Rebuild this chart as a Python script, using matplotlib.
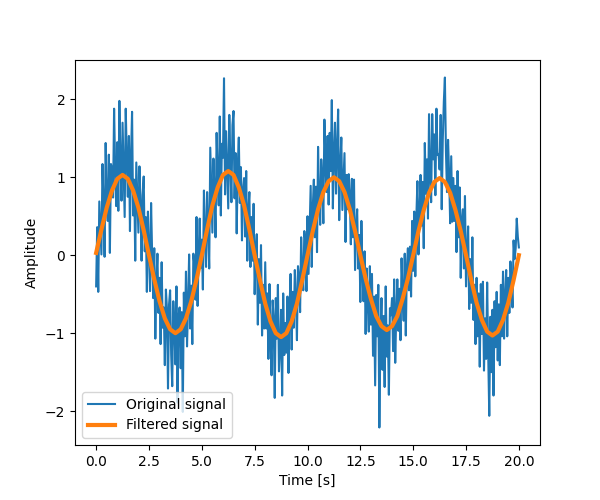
import numpy as np
import matplotlib
matplotlib.use("Agg")
import matplotlib.pyplot as plt

# noisy signal, sampled every 0.05 s from 0 to 20 s
original = [
    -0.40, 0.36, -0.47, 0.69, 0.35, 0.01, 1.17, 0.63, -0.02, 1.44, 0.69, 0.44, 1.29, 0.03, 1.17, 1.11, 0.74, 1.88, 1.11, 0.63,
    1.45, 0.57, 1.98, 1.19, 0.70, 1.70, 1.10, 0.49, 1.88, 1.27, 0.75, 1.53, 0.31, 1.28, 1.84, 0.51, 0.97, -0.07, 1.19, 0.74,
    0.29, 1.14, 0.68, -0.07, 0.77, 1.01, 0.05, 0.49, -0.47, 0.56, 0.10, -0.46, 0.67, 0.01, -0.55, 0.09, -1.07, -0.33, 0.02, -0.74,
    -0.29, -1.14, -0.09, -0.93, -0.67, -1.41, -0.44, -0.68, -1.71, -0.63, -0.45, -1.27, -1.68, -0.59, -0.90, -1.40, -0.40, -1.89, -0.78, -0.67,
    -1.45, -0.73, -2.01, -0.48, -1.04, -0.21, -1.17, -0.63, 0.01, -0.94, -0.39, -1.14, 0.02, -0.13, -0.57, 0.49, -0.65, 0.01, 0.47, -0.16,
    0.20, -0.44, 0.83, 0.29, -0.15, 0.81, 0.37, -0.17, 1.38, 0.84, 0.29, 1.24, 0.79, 0.23, 1.57, 1.01, 0.64, 1.78, 0.51, 1.43,
    1.25, 2.27, 0.78, 1.59, 1.10, 0.60, 1.80, 1.19, 0.68, 1.67, 1.85, 0.73, 1.31, 0.28, 1.14, 1.51, 0.67, 1.13, 0.19, 0.84,
    0.99, 0.24, 1.08, -0.07, 0.57, 0.81, -0.15, 0.49, -0.07, 0.66, -0.50, 0.04, 0.27, -0.89, -0.05, -0.61, 0.13, -1.03, -0.38, -0.94,
    -0.09, -0.94, -0.49, -1.33, -0.37, -1.01, -1.54, -0.58, -0.81, -1.83, -0.55, -1.07, -0.38, -1.49, -1.20, -0.70, -1.80, -0.49, -1.28, -0.87,
    -1.25, -0.53, -1.51, -0.68, -0.24, -1.21, -0.47, -0.93, -0.19, -0.54, -1.09, -0.14, -0.28, -0.73, 0.23, -0.21, -0.45, 0.31, 0.17, -0.46,
    0.50, -0.24, 0.33, 0.89, -0.15, 0.61, 0.97, 0.23, 0.88, 0.04, 1.39, 0.74, 0.39, 1.23, 0.97, 0.41, 1.74, 1.18, 0.81, 1.53,
    0.65, 1.57, 1.08, 1.99, 0.60, 1.30, 1.70, 0.79, 1.38, 1.87, 0.45, 1.13, 1.51, 0.58, 0.94, 1.31, 0.17, 1.03, 0.59, 1.04,
    0.79, 0.14, 0.98, 0.23, 0.97, -0.19, 0.35, 0.59, -0.17, 0.26, -0.60, 0.44, -0.23, -0.59, 0.05, -1.01, -0.17, -0.63, -0.98, -0.14,
    -0.89, -0.24, -1.29, -0.53, -1.67, -0.51, -1.04, -0.38, -2.21, -1.03, -0.55, -1.47, -0.78, -1.69, -0.40, -1.30, -0.90, -1.79, -0.68, -0.77,
    -0.55, -1.23, -0.31, -1.38, -0.74, -0.31, -0.97, -0.43, -1.09, -0.04, -0.49, -0.84, 0.02, -1.03, -0.17, 0.09, -0.45, 0.11, -0.53, 0.44,
    -0.20, 0.56, -0.27, 0.49, 0.95, 0.01, 0.57, 1.03, 0.38, 0.94, 0.09, 1.44, 0.79, 1.23, 0.47, 1.81, 1.04, 0.68, 1.81, 1.23,
    1.55, 0.77, 1.88, 1.29, 1.30, 1.10, 1.80, 0.59, 1.48, 1.97, 2.28, 1.33, 0.81, 1.48, 1.04, 0.41, 1.27, 0.43, 0.99, 0.44,
    0.89, 0.04, 1.08, 0.23, 0.87, -0.29, 0.45, 0.59, -0.17, 0.76, -0.40, 0.04, 0.37, -0.69, -0.05, -0.61, 0.23, -0.83, -0.38, -1.14,
    -0.29, -1.04, -0.49, -1.43, -0.37, -1.01, -0.34, -1.48, -0.81, -1.33, -0.35, -1.27, -2.06, -0.79, -1.50, -0.70, -1.80, -0.59, -1.18, -0.47,
    -1.35, -0.63, -1.41, -0.38, -1.04, -0.21, -1.07, -0.53, -0.19, -1.04, -0.29, -0.74, -0.08, -0.33, -0.67, 0.19, -0.05, 0.09, 0.47, 0.24,
    0.10,
]

# filtered signal, sampled every 0.25 s from 0 to 20 s
filtered = [
    0.03, 0.33, 0.61, 0.83, 0.98, 1.03, 0.98, 0.83, 0.61, 0.32, 0.00,
    -0.31, -0.59, -0.81, -0.95, -1.00, -0.95, -0.81, -0.59, -0.31, 0.00,
    0.33, 0.64, 0.87, 1.03, 1.08, 1.03, 0.87, 0.64, 0.33, 0.00,
    -0.32, -0.62, -0.85, -1.00, -1.05, -1.00, -0.85, -0.62, -0.32, 0.00,
    0.31, 0.59, 0.81, 0.95, 1.00, 0.95, 0.81, 0.59, 0.31, 0.00,
    -0.30, -0.56, -0.78, -0.91, -0.96, -0.91, -0.78, -0.56, -0.30, 0.00,
    0.31, 0.58, 0.80, 0.94, 0.99, 0.94, 0.80, 0.58, 0.31, 0.00,
    -0.32, -0.61, -0.83, -0.98, -1.03, -0.98, -0.83, -0.61, -0.32, 0.00,
]

t_orig = np.linspace(0, 20, len(original))
t_filt = np.linspace(0, 20, len(filtered))

fig, ax = plt.subplots(figsize=(6, 5), dpi=100)
ax.plot(t_orig, original, color="#1f77b4", lw=1.5, label="Original signal")
ax.plot(t_filt, filtered, color="#ff7f0e", lw=3, label="Filtered signal")
ax.set_xlabel("Time [s]")
ax.set_ylabel("Amplitude")
ax.legend(loc="lower left")
fig.savefig("out.png", dpi=100)
